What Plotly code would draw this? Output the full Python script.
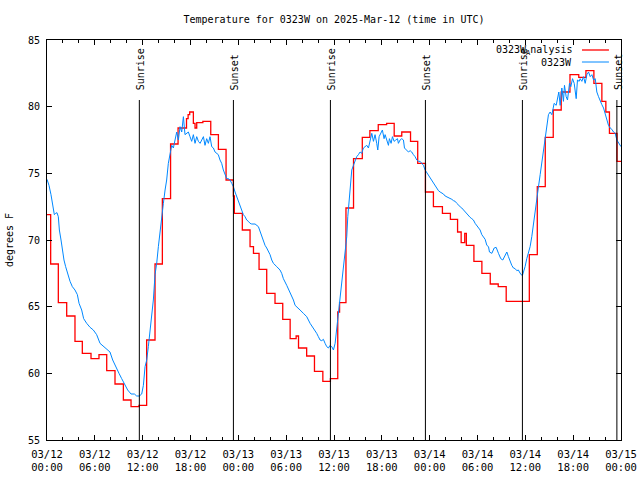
import plotly.graph_objects as go
import pandas as pd

# ---------------- data (hours after 2025-03-12 00:00 UTC) ----------------
analysis_hours = [
    0, 0.46, 1.42, 2.47, 3.51, 4.43, 5.52, 6.52, 7.49, 8.53,
    9.58, 10.54, 11.54, 12.5, 13.55, 14.47, 15.5, 16.44, 17.5, 17.7,
    17.9, 18.36, 18.57, 18.78, 19.55, 20.54, 21.5, 22.46, 23.38, 23.5,
    24.5, 25.47, 25.9, 26.6, 27.56, 28.6, 29.57, 30.5, 31.25, 31.55,
    32.57, 33.55, 34.6, 35.55, 36.47, 36.7, 37.5, 38.45, 39.55, 40.5,
    41.55, 42.6, 43.55, 44.5, 45.6, 46.5, 47.47, 48.47, 49.6, 50.6,
    51.5, 51.95, 52.4, 52.6, 53.55, 54.55, 55.6, 56.6, 57.6, 60.5,
    61.5, 62.5, 63.5, 64.5, 65.6, 66.7, 67.6, 68.6, 69.6, 70.1,
    70.55, 71.5, 72.0,
]
analysis_temp = [
    71.9, 68.2, 65.3, 64.3, 62.4, 61.5, 61.1, 61.4, 60.2, 59.2,
    58.0, 57.5, 57.6, 62.5, 68.2, 73.1, 77.2, 78.4, 79.1, 79.4,
    79.6, 78.75, 78.4, 78.8, 78.9, 77.9, 76.8, 74.5, 73.3, 72.0,
    70.75, 69.5, 69.0, 67.8, 66.0, 65.25, 64.05, 62.6, 62.8, 61.9,
    61.3, 60.15, 59.4, 59.6, 64.6, 65.3, 72.4, 76.1, 77.7, 78.2,
    78.65, 78.75, 77.8, 78.1, 77.4, 75.75, 73.6, 72.5, 72.0, 71.55,
    70.6, 69.8, 70.5, 69.6, 68.4, 67.5, 66.7, 66.5, 65.4, 68.9,
    74.0, 77.7, 79.75, 81.1, 82.4, 82.2, 82.7, 81.75, 80.4, 79.6,
    78.0, 75.9, 75.9,
]

obs_hours = [
    0, 0.25, 0.5, 0.79, 0.92, 1.09, 1.25, 1.42, 1.55, 1.76,
    1.92, 2.13, 2.34, 2.59, 2.89, 3.18, 3.51, 3.81, 4.02, 4.35,
    4.6, 4.98, 5.4, 5.81, 6.23, 6.65, 7.07, 7.49, 7.9, 8.24,
    8.62, 9.03, 9.37, 9.79, 10.12, 10.54, 10.96, 11.25, 11.58, 11.88,
    12.09, 12.3, 12.51, 12.71, 12.92, 13.13, 13.34, 13.55, 13.76, 13.97,
    14.18, 14.39, 14.6, 14.81, 15.01, 15.22, 15.43, 15.64, 15.85, 16.06,
    16.27, 16.48, 16.69, 16.9, 17.11, 17.31, 17.52, 17.73, 17.94, 18.15,
    18.36, 18.57, 18.78, 18.99, 19.2, 19.41, 19.62, 19.82, 20.03, 20.24,
    20.45, 20.66, 20.87, 21.08, 21.28, 21.49, 21.7, 21.91, 22.12, 22.33,
    22.54, 22.75, 22.96, 23.17, 23.38, 23.59, 23.8, 24.01, 24.22, 24.42,
    24.63, 24.84, 25.05, 25.26, 25.47, 25.68, 26.1, 26.52, 26.73, 26.94,
    27.14, 27.35, 27.56, 27.98, 28.19, 28.4, 28.82, 29.23, 29.44, 29.65,
    30.07, 30.49, 30.7, 30.91, 31.12, 31.32, 31.74, 32.16, 32.37, 32.58,
    33.0, 33.42, 33.83, 34.04, 34.25, 34.46, 34.67, 34.88, 35.09, 35.3,
    35.51, 35.72, 35.93, 36.14, 36.35, 36.56, 36.68, 36.89, 36.97, 37.18,
    37.39, 37.6, 37.73, 37.89, 38.02, 38.23, 38.44, 38.65, 38.85, 39.06,
    39.27, 39.48, 39.69, 39.9, 40.11, 40.32, 40.53, 40.74, 40.95, 41.15,
    41.36, 41.49, 41.66, 41.87, 42.07, 42.28, 42.41, 42.62, 42.83, 42.95,
    43.16, 43.33, 43.54, 43.75, 43.96, 44.08, 44.29, 44.5, 44.71, 44.84,
    45.13, 45.34, 45.55, 45.75, 45.96, 46.17, 46.38, 46.59, 46.8, 47.01,
    47.22, 47.43, 47.64, 47.85, 48.06, 48.26, 48.47, 48.68, 48.89, 49.1,
    49.31, 49.52, 49.73, 49.94, 50.15, 50.36, 50.57, 50.78, 50.99, 51.2,
    51.4, 51.61, 51.82, 52.03, 52.24, 52.45, 52.66, 52.87, 53.07, 53.28,
    53.49, 53.7, 53.91, 54.12, 54.33, 54.54, 54.75, 54.96, 55.17, 55.38,
    55.5, 55.8, 56.09, 56.34, 56.63, 56.92, 57.17, 57.47, 57.68, 57.88,
    58.09, 58.3, 58.51, 58.72, 58.93, 59.13, 59.26, 59.47, 59.64, 59.77,
    59.97, 60.18, 60.39, 60.6, 60.81, 61.02, 61.23, 61.44, 61.65, 61.86,
    62.07, 62.28, 62.48, 62.69, 62.9, 63.11, 63.32, 63.45, 63.61, 63.87,
    64.03, 64.2, 64.37, 64.58, 64.78, 64.91, 65.12, 65.29, 65.54, 65.71,
    65.92, 66.13, 66.38, 66.54, 66.75, 66.88, 67.09, 67.3, 67.51, 67.72,
    67.93, 68.14, 68.35, 68.56, 68.77, 68.97, 69.18, 69.39, 69.6, 69.81,
    70.02, 70.22, 70.43, 70.64, 70.85, 71.06, 71.27, 71.48, 71.69, 71.9, 72.0,
]
obs_temp = [
    74.55, 74.1, 73.4, 72.5, 71.9, 72.0, 72.05, 71.75, 70.75, 70.0,
    69.25, 68.5, 68.0, 67.4, 66.9, 66.5, 66.25, 65.9, 65.25, 64.75,
    64.1, 63.75, 63.45, 63.25, 62.9, 62.25, 62.05, 61.8, 61.6, 61.0,
    60.45, 60.0, 59.6, 59.1, 58.75, 58.45, 58.45, 58.3, 58.3, 58.45,
    59.1, 60.5, 61.0, 62.0, 63.25, 64.25, 65.5, 67.4, 68.25, 69.5,
    70.75, 72.0, 72.75, 73.75, 74.5, 75.75, 76.6, 77.1, 76.9, 77.6,
    78.1, 77.5, 78.5, 78.1, 79.25, 77.9, 78.0, 78.1, 77.75, 77.4,
    77.9, 77.25, 77.75, 77.4, 77.25, 77.5, 77.75, 77.1, 77.6, 77.25,
    77.75, 77.0, 76.9, 76.6, 76.5, 76.4, 76.0, 75.75, 75.25, 74.9,
    74.6, 74.6, 74.5, 74.25, 74.0, 73.6, 73.25, 72.9, 72.5, 72.25,
    71.9, 71.75, 71.5, 71.4, 71.25, 71.2, 71.2, 71.0, 70.6, 70.25,
    69.9, 69.6, 69.4, 68.9, 68.5, 68.25, 68.0, 67.75, 67.5, 67.1,
    66.6, 66.1, 65.75, 65.5, 65.1, 65.0, 64.75, 64.5, 64.4, 64.25,
    63.75, 63.4, 63.0, 62.75, 62.5, 62.45, 62.55, 62.25, 62.0, 61.9,
    62.1, 62.0, 61.75, 62.25, 63.4, 64.5, 65.1, 66.25, 66.75, 67.75,
    69.25, 70.25, 71.75, 72.75, 74.0, 75.25, 75.6, 75.9, 76.25, 76.4,
    76.6, 76.5, 76.9, 77.0, 77.1, 76.9, 77.5, 78.0, 77.4, 77.9,
    77.25, 76.75, 77.75, 78.0, 78.25, 77.6, 77.9, 77.5, 77.1, 77.6,
    77.25, 77.75, 77.4, 77.5, 77.6, 77.25, 77.5, 77.6, 77.5, 76.9,
    76.75, 76.6, 76.7, 76.6, 76.4, 76.25, 76.0, 75.9, 75.9, 75.75,
    75.6, 75.25, 75.05, 74.8, 74.6, 74.45, 74.25, 74.0, 73.8, 73.7,
    73.6, 73.55, 73.45, 73.3, 73.25, 73.2, 73.1, 73.05, 72.95, 72.9,
    72.75, 72.6, 72.5, 72.4, 72.25, 72.1, 72.0, 71.8, 71.7, 71.6,
    71.5, 71.25, 71.1, 70.9, 70.75, 70.4, 70.25, 70.05, 69.6, 69.5,
    69.1, 69.0, 69.4, 69.45, 69.0, 68.6, 68.5, 68.9, 69.1, 68.75,
    68.4, 68.1, 67.9, 67.85, 67.7, 67.75, 67.6, 67.4, 67.35, 67.6,
    68.0, 68.6, 69.0, 69.5, 70.25, 71.1, 72.0, 72.9, 74.0, 74.9,
    75.9, 76.75, 77.5, 78.5, 79.4, 79.6, 79.4, 79.75, 80.25, 80.1,
    80.6, 81.1, 80.1, 81.4, 80.4, 81.6, 80.75, 80.5, 81.75, 81.5,
    82.1, 81.75, 80.6, 82.0, 81.9, 82.1, 81.9, 82.25, 81.75, 82.4,
    82.6, 82.25, 82.4, 82.0, 82.1, 81.1, 80.75, 80.4, 80.15, 79.9,
    79.5, 79.1, 78.6, 78.4, 78.3, 78.1, 78.0, 77.5, 77.25, 77.1, 77.0,
]

sunrise_times = ["2025-03-12 11:35", "2025-03-13 11:33", "2025-03-14 11:38"]
sunset_times = ["2025-03-12 23:23", "2025-03-13 23:28", "2025-03-14 23:29"]

tick_times = ["2025-03-12 00:00", "2025-03-12 06:00", "2025-03-12 12:00", "2025-03-12 18:00",
              "2025-03-13 00:00", "2025-03-13 06:00", "2025-03-13 12:00", "2025-03-13 18:00",
              "2025-03-14 00:00", "2025-03-14 06:00", "2025-03-14 12:00", "2025-03-14 18:00",
              "2025-03-15 00:00"]
tick_text = ["03/12<br>00:00", "03/12<br>06:00", "03/12<br>12:00", "03/12<br>18:00",
             "03/13<br>00:00", "03/13<br>06:00", "03/13<br>12:00", "03/13<br>18:00",
             "03/14<br>00:00", "03/14<br>06:00", "03/14<br>12:00", "03/14<br>18:00",
             "03/15<br>00:00"]

assert len(analysis_hours) == len(analysis_temp)
assert len(obs_hours) == len(obs_temp)

base = pd.Timestamp("2025-03-12 00:00")
analysis_t = [base + pd.Timedelta(hours=h) for h in analysis_hours]
obs_t = [base + pd.Timedelta(hours=h) for h in obs_hours]

FONT = "DejaVu Sans Mono"
RED = "#ff0000"
BLUE = "#0088ff"

fig = go.Figure()
fig.add_trace(go.Scatter(x=analysis_t, y=analysis_temp, mode="lines", name="0323W_Analysis",
                         line=dict(color=RED, width=1.3, shape="hv"), showlegend=False))
fig.add_trace(go.Scatter(x=obs_t, y=obs_temp, mode="lines", name="0323W",
                         line=dict(color=BLUE, width=1), showlegend=False))

# sunrise / sunset markers
for times, label in ((sunrise_times, "Sunrise"), (sunset_times, "Sunset")):
    for t in times:
        fig.add_shape(type="line", xref="x", yref="y", x0=t, x1=t, y0=55, y1=80.5,
                      line=dict(color="black", width=1))
        fig.add_annotation(x=t, y=81.1, xref="x", yref="y", text=label, textangle=-90,
                           showarrow=False, xanchor="center", yanchor="bottom", xshift=1,
                           font=dict(family=FONT, size=10, color="black"))

# gnuplot-style key (text left, sample right)
key = [("0323W<sub>A</sub>nalysis", RED, 0.975, 1.3), ("0323W", BLUE, 0.945, 1)]
for txt, col, yp, w in key:
    fig.add_annotation(x=0.918, y=yp, xref="paper", yref="paper", text=txt, showarrow=False,
                       xanchor="right", yanchor="middle", font=dict(family=FONT, size=10, color="black"))
    fig.add_shape(type="line", xref="paper", yref="paper", x0=0.932, x1=0.979, y0=yp, y1=yp,
                  line=dict(color=col, width=w))

fig.update_layout(
    width=640, height=480,
    margin=dict(l=47, r=19, t=40, b=40, autoexpand=False),
    paper_bgcolor="white", plot_bgcolor="white",
    font=dict(family=FONT, size=10, color="black"),
    title=dict(text="Temperature for 0323W on 2025-Mar-12 (time in UTC)", x=0.5, xref="paper",
               y=1 - 19 / 480, yref="container", yanchor="middle",
               font=dict(family=FONT, size=10, color="black")),
    hovermode=False,
)
fig.update_xaxes(
    type="date", range=["2025-03-12 00:00", "2025-03-15 00:00"],
    tickvals=tick_times, ticktext=tick_text,
    ticks="inside", ticklen=5, tickcolor="black", tickwidth=1,
    minor=dict(dtick=2 * 3600 * 1000, ticks="inside", ticklen=3, tickcolor="black", tick0="2025-03-12"),
    showline=True, linecolor="black", linewidth=1, mirror="allticks",
    showgrid=False, zeroline=False, tickfont=dict(family=FONT, size=10.5),
    ticklabelstandoff=4, automargin=False,
)
fig.update_yaxes(
    range=[55, 85], dtick=5, tick0=55,
    ticks="inside", ticklen=5, tickcolor="black", tickwidth=1,
    showline=True, linecolor="black", linewidth=1, mirror="allticks",
    showgrid=False, zeroline=False, tickfont=dict(family=FONT, size=10),
    ticklabelstandoff=4,
    title=dict(text="degrees F", font=dict(family=FONT, size=10), standoff=12),
    automargin=False,
)

fig.write_html("out.html", config={"displayModeBar": False, "staticPlot": True},
               post_script="document.body.style.margin='0px';document.body.style.overflow='hidden';")
